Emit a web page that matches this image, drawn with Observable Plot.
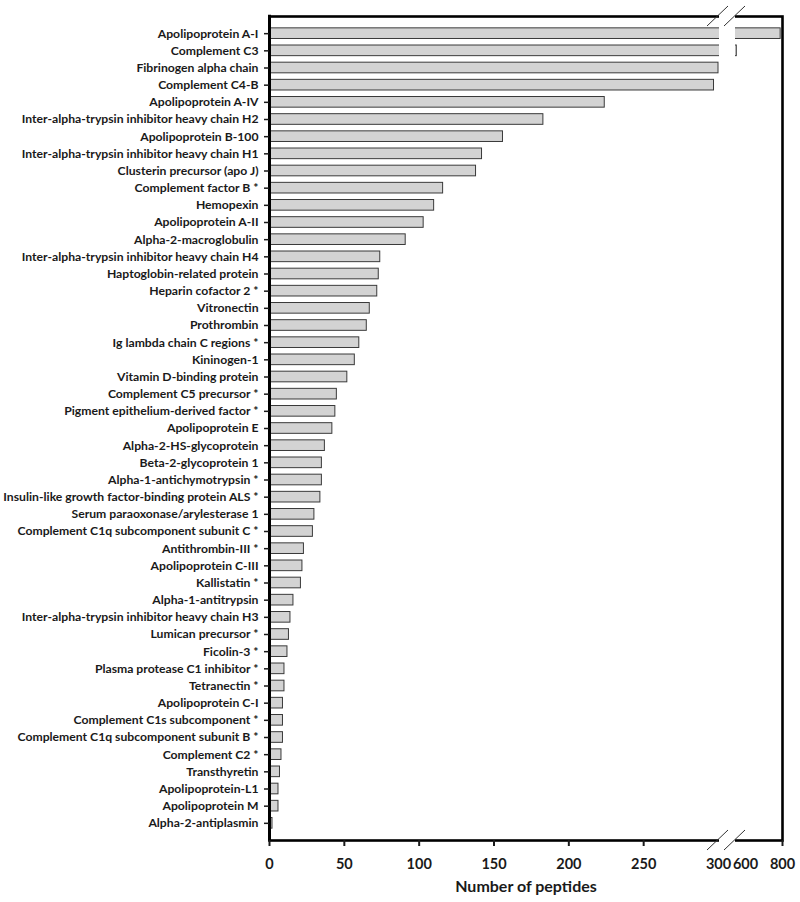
<!DOCTYPE html>
<html>
<head>
<meta charset="utf-8">
<script src="https://cdn.jsdelivr.net/npm/d3@7"></script>
<script src="https://cdn.jsdelivr.net/npm/@observablehq/plot@0.6"></script>
<style>
  html, body { margin: 0; padding: 0; background: white; }
  #chart svg { display: block; }
</style>
</head>
<body>
<div id="chart"></div>
<script>
const proteins = [
  "Apolipoprotein A-I",
  "Complement C3",
  "Fibrinogen alpha chain",
  "Complement C4-B",
  "Apolipoprotein A-IV",
  "Inter-alpha-trypsin inhibitor heavy chain H2",
  "Apolipoprotein B-100",
  "Inter-alpha-trypsin inhibitor heavy chain H1",
  "Clusterin precursor (apo J)",
  "Complement factor B *",
  "Hemopexin",
  "Apolipoprotein A-II",
  "Alpha-2-macroglobulin",
  "Inter-alpha-trypsin inhibitor heavy chain H4",
  "Haptoglobin-related protein",
  "Heparin cofactor 2 *",
  "Vitronectin",
  "Prothrombin",
  "Ig lambda chain C regions *",
  "Kininogen-1",
  "Vitamin D-binding protein",
  "Complement C5 precursor *",
  "Pigment epithelium-derived factor *",
  "Apolipoprotein E",
  "Alpha-2-HS-glycoprotein",
  "Beta-2-glycoprotein 1",
  "Alpha-1-antichymotrypsin *",
  "Insulin-like growth factor-binding protein ALS *",
  "Serum paraoxonase/arylesterase 1",
  "Complement C1q subcomponent subunit C *",
  "Antithrombin-III *",
  "Apolipoprotein C-III",
  "Kallistatin *",
  "Alpha-1-antitrypsin",
  "Inter-alpha-trypsin inhibitor heavy chain H3",
  "Lumican precursor *",
  "Ficolin-3 *",
  "Plasma protease C1 inhibitor *",
  "Tetranectin *",
  "Apolipoprotein C-I",
  "Complement C1s subcomponent *",
  "Complement C1q subcomponent subunit B *",
  "Complement C2 *",
  "Transthyretin",
  "Apolipoprotein-L1",
  "Apolipoprotein M",
  "Alpha-2-antiplasmin"
];
const peptides = [
  790, 553, 300, 297, 224, 183, 156, 142, 138, 116,
  110, 103, 91, 74, 73, 72, 67, 65, 60, 57,
  52, 45, 44, 42, 37, 35, 35, 34, 30, 29,
  23, 22, 21, 16, 14, 13, 12, 10, 10, 9,
  9, 9, 8, 7, 6, 6, 2
];
const xTickMarks = [0, 50, 100, 150, 200, 250, 800];
const xTickLabels = [0, 50, 100, 150, 200, 250, 300, 600, 800];
const xBreak = [300, 546];
const xMax = 800;
const xLabel = ["Number of peptides"];

// broken axis: 0–300 at full scale, then the gap, then 546–800 compressed
const lowPx = 449, gapPx = 17, highPx = 47;
const unit = lowPx / xBreak[0];
function breakAxis(v) {
  if (v <= xBreak[0]) return v;
  return xBreak[0] + gapPx / unit + (v - xBreak[1]) * (highPx / (xMax - xBreak[1])) / unit;
}
const tickText = new Map(xTickLabels.map(v => [breakAxis(v), String(v)]));

const data = proteins.map((p, i) => ({protein: p, peptides: peptides[i]}));

const chart = Plot.plot({
  width: 800,
  height: 902,
  marginLeft: 269,
  marginRight: 18,
  marginTop: 16,
  marginBottom: 62,
  style: {fontFamily: "Lato, 'Open Sans', sans-serif", fontWeight: "bold", color: "#1a1a1a", background: "white"},
  x: {transform: breakAxis, domain: [0, breakAxis(xMax)], range: [269, 782]},
  y: {domain: proteins, paddingInner: 0.38, paddingOuter: 0.69, align: 0.5, round: false},
  marks: [
    Plot.barX(data, {y: "protein", x: "peptides", fill: "#d3d3d3", stroke: "#3a3a3a", strokeWidth: 1}),
    Plot.frame({stroke: "black", strokeWidth: 2.6}),
    Plot.ruleX([0], {stroke: "black", strokeWidth: 3, insetTop: -1.3, insetBottom: -1.3}),
    Plot.barX([xBreak], {x1: d => d[0], x2: d => d[1], fill: "white", insetLeft: 1, insetTop: -4, insetBottom: -4}),
    Plot.axisY({tickSize: 5, tickPadding: 6, fontSize: 12.2, strokeWidth: 1.5, label: null, fill: "#1a1a1a"}),
    Plot.axisX({ticks: xTickMarks.map(breakAxis), tickSize: 6, strokeWidth: 2, tickFormat: () => "", label: null}),
    Plot.axisX({ticks: xTickLabels.map(breakAxis), tickSize: 0, tickPadding: 18, fontSize: 14.5, label: null, fill: "#1a1a1a",
                tickFormat: d => tickText.get(d)}),
    Plot.text(xLabel, {text: d => d, frameAnchor: "bottom", dy: 51, fontSize: 16, fontWeight: "bold", fill: "#1a1a1a"})
  ]
});

document.getElementById("chart").appendChild(chart);

// break marks on the top and bottom frame lines
const sx = chart.scale("x");
const svg = d3.select(chart);
const yTop = 16, yBottom = 902 - 62;
const g = svg.append("g").attr("stroke", "#333").attr("stroke-width", 1);
for (const v of xBreak) {
  const cx = sx.apply(breakAxis(v)) - 1;
  for (const yy of [yTop, yBottom]) {
    g.append("line")
      .attr("x1", cx - 10).attr("y1", yy + 10)
      .attr("x2", cx + 11).attr("y2", yy - 10);
  }
}
</script>
</body>
</html>
